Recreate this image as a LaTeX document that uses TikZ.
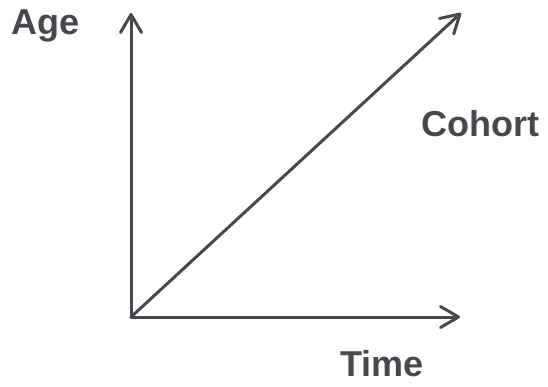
\documentclass[tikz,border=0pt]{standalone}
\usepackage{fontspec}
\setmainfont{Liberation Sans}
\usetikzlibrary{arrows.meta}
\definecolor{ink}{HTML}{45484C}
\begin{document}
\begin{tikzpicture}[x=1pt,y=-1pt,
  axis/.style={draw=ink,line width=3pt,line cap=round,
    -{Straight Barb[length=18pt,width=21pt,line cap=round,line join=round]}},
  lbl/.style={text=ink,font=\fontsize{36}{36}\selectfont\bfseries,inner sep=0pt}]
\useasboundingbox (0,0) rectangle (548,386);
\coordinate (o) at (131,317);
\coordinate (ytip) at (131,13);
\coordinate (xtip) at (460,317);
\coordinate (dtip) at (461,13);
\draw[axis] (o) -- (ytip);
\draw[axis] (o) -- (xtip);
\draw[axis] (o) -- (dtip);
\node[lbl,anchor=base] (age) at (46,34) {Age};
\node[lbl,anchor=base west] (cohort) at (421,136) {Cohort};
\node[lbl,anchor=base west] (time) at (340,376) {Time};
\end{tikzpicture}
\end{document}
